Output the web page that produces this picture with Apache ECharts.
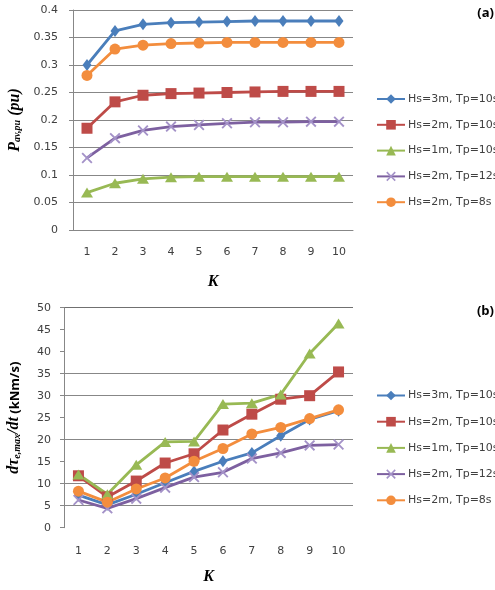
<!DOCTYPE html>
<html>
<head>
<meta charset="utf-8">
<script src="https://cdn.jsdelivr.net/npm/echarts@6/dist/echarts.min.js"></script>
<style>
  html, body { margin: 0; padding: 0; background: #fff; }
  #chart { width: 495px; height: 590px; }
</style>
</head>
<body>
<div id="chart"></div>
<script>
// Wave-case labels and the K values on the horizontal axis
const seriesNames = ['Hs=3m, Tp=10s', 'Hs=2m, Tp=10s', 'Hs=1m, Tp=10s', 'Hs=2m, Tp=12s', 'Hs=2m, Tp=8s'];
const kValues = ['1', '2', '3', '4', '5', '6', '7', '8', '9', '10'];

// (a) average power, per unit
const powerHs3Tp10 = [0.300, 0.362, 0.374, 0.377, 0.378, 0.379, 0.380, 0.380, 0.380, 0.380];
const powerHs2Tp10 = [0.185, 0.233, 0.245, 0.248, 0.249, 0.250, 0.251, 0.252, 0.252, 0.252];
const powerHs1Tp10 = [0.068, 0.085, 0.093, 0.096, 0.097, 0.097, 0.097, 0.097, 0.097, 0.097];
const powerHs2Tp12 = [0.131, 0.167, 0.181, 0.188, 0.191, 0.194, 0.196, 0.196, 0.197, 0.197];
const powerHs2Tp8  = [0.281, 0.329, 0.336, 0.339, 0.340, 0.341, 0.341, 0.341, 0.341, 0.341];

// (b) maximum torque rate, kNm/s
const rateHs3Tp10 = [7.4, 5.2, 7.6, 10.2, 12.8, 15.1, 17.0, 20.9, 24.6, 26.6];
const rateHs2Tp10 = [11.8, 7.0, 10.6, 14.7, 16.8, 22.2, 25.8, 29.2, 30.0, 35.4];
const rateHs1Tp10 = [12.1, 7.6, 14.3, 19.5, 19.6, 28.1, 28.3, 30.3, 39.6, 46.4];
const rateHs2Tp12 = [6.3, 4.4, 6.6, 9.1, 11.5, 12.6, 15.7, 17.0, 18.7, 18.9];
const rateHs2Tp8  = [8.3, 5.8, 8.8, 11.3, 15.1, 18.0, 21.3, 22.8, 24.8, 26.8];

const powerData = [powerHs3Tp10, powerHs2Tp10, powerHs1Tp10, powerHs2Tp12, powerHs2Tp8];
const rateData = [rateHs3Tp10, rateHs2Tp10, rateHs1Tp10, rateHs2Tp12, rateHs2Tp8];

const crossPath = 'path://M0,1.2L1.2,0L5,3.8L8.8,0L10,1.2L6.2,5L10,8.8L8.8,10L5,6.2L1.2,10L0,8.8L3.8,5Z';
const styles = [
  { line: '#4A7EBB', mark: '#4A7EBB', symbol: 'diamond', size: [9, 12] },
  { line: '#BE4B48', mark: '#BE4B48', symbol: 'rect', size: 11 },
  { line: '#98B954', mark: '#98B954', symbol: 'triangle', size: [12, 10] },
  { line: '#7D60A0', mark: '#A492C8', symbol: crossPath, size: 11 },
  { line: '#F38D3D', mark: '#F38D3D', symbol: 'circle', size: 11 }
];

const tickFont = { fontFamily: 'DejaVu Sans', fontSize: 11, color: '#404040' };
const gridColor = '#878787';
const clear = 'rgba(0,0,0,0)';

function makeSeries(data, idx) {
  return data.map((values, i) => ({
    name: seriesNames[i],
    type: 'line',
    xAxisIndex: idx,
    yAxisIndex: idx,
    data: values,
    symbol: styles[i].symbol,
    symbolSize: styles[i].size,
    showAllSymbol: true,
    lineStyle: { color: styles[i].line, width: 2.8 },
    itemStyle: { color: styles[i].mark, borderWidth: 0 },
    emphasis: { disabled: true },
    animation: false
  }));
}

const serifName = { fontFamily: 'Liberation Serif', fontStyle: 'italic', fontWeight: 'bold', fontSize: 16, color: '#000', verticalAlign: 'bottom', lineHeight: 18 };
const serifSub = { fontFamily: 'Liberation Serif', fontStyle: 'italic', fontWeight: 'bold', fontSize: 10, color: '#000', verticalAlign: 'bottom', lineHeight: 14 };

function legendAt(top, gap) {
  return {
    orient: 'vertical',
    left: 376,
    top: top,
    itemWidth: 28,
    itemHeight: 12,
    itemGap: gap,
    padding: 0,
    data: seriesNames,
    textStyle: { fontFamily: 'DejaVu Sans', fontSize: 11, color: '#404040', padding: [0, 0, 0, -2] },
    selectedMode: false
  };
}

const chart = echarts.init(document.getElementById('chart'), null, { renderer: 'canvas' });
chart.setOption({
  backgroundColor: '#fff',
  animation: false,
  title: [
    { text: '(a)', right: 1, top: 7, padding: 0, textStyle: { fontFamily: 'Open Sans', fontWeight: 'bold', fontSize: 13, color: '#000' } },
    { text: '(b)', right: 1, top: 305, padding: 0, textStyle: { fontFamily: 'Open Sans', fontWeight: 'bold', fontSize: 13, color: '#000' } }
  ],
  legend: [legendAt(93.5, 14.8), legendAt(390, 15.2)],
  grid: [
    { left: 73, top: 10, width: 280, height: 220, containLabel: false, outerBoundsMode: 'none' },
    { left: 64, top: 307.7, width: 289, height: 220, containLabel: false, outerBoundsMode: 'none' }
  ],
  xAxis: [
    {
      type: 'category', gridIndex: 0, data: kValues, boundaryGap: true,
      name: 'K', nameLocation: 'middle', nameGap: 44,
      nameTextStyle: { fontFamily: 'Liberation Serif', fontStyle: 'italic', fontWeight: 'bold', fontSize: 16, color: '#000' },
      axisLine: { show: true, lineStyle: { color: gridColor, width: 1 } },
      axisTick: { show: false },
      axisLabel: Object.assign({ margin: 17 }, tickFont),
      splitLine: { show: false }
    },
    {
      type: 'category', gridIndex: 1, data: kValues, boundaryGap: true,
      name: 'K', nameLocation: 'middle', nameGap: 41,
      nameTextStyle: { fontFamily: 'Liberation Serif', fontStyle: 'italic', fontWeight: 'bold', fontSize: 16, color: '#000' },
      axisLine: { show: false },
      axisTick: { show: false },
      axisLabel: Object.assign({ margin: 18 }, tickFont),
      splitLine: { show: false }
    }
  ],
  yAxis: [
    {
      type: 'value', gridIndex: 0, min: 0, max: 0.4, interval: 0.05,
      name: '{m|P}{s|av,pu}{m| (pu)}', nameLocation: 'middle', nameGap: 48, nameRotate: 90,
      nameTextStyle: { rich: { m: serifName, s: serifSub } },
      axisLine: { show: true, lineStyle: { color: gridColor, width: 1 } },
      axisTick: { show: true, length: 4, lineStyle: { color: gridColor } },
      axisLabel: Object.assign({ margin: 15 }, tickFont),
      splitLine: { show: true, lineStyle: { color: gridColor, width: 1 } }
    },
    {
      type: 'value', gridIndex: 1, min: 0, max: 50, interval: 5,
      name: '{m|dτ}{s|e,max}{m|/dt}{n| (kNm/s)}', nameLocation: 'middle', nameGap: 42, nameRotate: 90,
      nameTextStyle: { rich: { m: serifName, s: serifSub,
        n: { fontFamily: 'Open Sans', fontWeight: 'bold', fontSize: 13, color: '#000', verticalAlign: 'bottom', lineHeight: 18 } } },
      axisLine: { show: true, lineStyle: { color: gridColor, width: 1 } },
      axisTick: { show: true, length: 4, lineStyle: { color: gridColor } },
      axisLabel: Object.assign({ margin: 13 }, tickFont),
      splitLine: { show: true, lineStyle: { width: 1,
        color: [clear, gridColor, gridColor, clear, gridColor, clear, gridColor, gridColor, clear, clear, '#707070'] } }
    }
  ],
  series: makeSeries(powerData, 0).concat(makeSeries(rateData, 1))
});
</script>
</body>
</html>
